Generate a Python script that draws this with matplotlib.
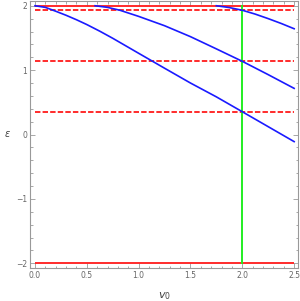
import matplotlib
matplotlib.use('Agg')
import matplotlib.pyplot as plt
from matplotlib.ticker import MultipleLocator

# levels (red lines)
solid_levels = [2.0, -2.0]
dashed_levels = [1.93, 1.137, 0.354]
v0_marker = 2.0

# blue curves
v0_a = [0.0, 0.1, 0.2, 0.3, 0.4, 0.5, 0.625, 0.75, 1.0, 1.25, 1.5, 1.75, 2.0, 2.25, 2.5]
eps_a = [2.0, 1.975, 1.915, 1.852, 1.783, 1.708, 1.605, 1.495, 1.262, 1.03, 0.8, 0.585, 0.354, 0.122, -0.11]

v0_b = [0.58, 0.7, 0.82, 1.0, 1.25, 1.5, 1.75, 2.0, 2.25, 2.5]
eps_b = [2.0, 1.975, 1.93, 1.835, 1.69, 1.52, 1.33, 1.137, 0.93, 0.717]

v0_c = [1.75, 1.875, 2.0, 2.125, 2.25, 2.375, 2.5]
eps_c = [2.0, 1.972, 1.93, 1.87, 1.8, 1.725, 1.643]

x_ticks = [0.0, 0.5, 1.0, 1.5, 2.0, 2.5]
y_ticks = [-2, -1, 0, 1, 2]

fig = plt.figure(figsize=(3.0, 3.01), dpi=100)
ax = fig.add_axes([0.0993, 0.108, 0.895, 0.890])

red = '#ff1a1a'
for y in solid_levels:
    ax.plot([0, 2.5], [y, y], color=red, lw=1.3, solid_capstyle='butt')
for y in dashed_levels:
    ax.plot([0, 2.5], [y, y], color=red, lw=1.3, linestyle=(0, (3, 1.2)))

ax.plot([v0_marker, v0_marker], [-2, 2], color='#22ee22', lw=1.4)

for xs, ys in [(v0_a, eps_a), (v0_b, eps_b), (v0_c, eps_c)]:
    ax.plot(xs, ys, color='#1a1aff', lw=1.2)

ax.set_xlim(-0.05, 2.54)
ax.set_ylim(-2.08, 2.08)

ax.set_xticks(x_ticks)
ax.set_xticklabels(['0.0', '0.5', '1.0', '1.5', '2.0', '2.5'])
ax.set_yticks(y_ticks)
ax.set_yticklabels(['\u22122', '\u22121', '0', '1', '2'])
ax.xaxis.set_minor_locator(MultipleLocator(0.1))
ax.yaxis.set_minor_locator(MultipleLocator(0.2))

gray = '#999999'
for s in ax.spines.values():
    s.set_color(gray)
    s.set_linewidth(0.8)
ax.tick_params(which='both', direction='in', top=True, right=True, color=gray,
               labelcolor='#666666', labelsize=5.5, width=0.6)
ax.tick_params(which='major', length=3.5, pad=2)
ax.tick_params(which='minor', length=1.8)

fig.text(0.025, 0.555, r'$\varepsilon$', fontsize=7, color='#444444', ha='center', va='center')
ax.set_xlabel(r'$v_0$', fontsize=8, color='#444444', labelpad=7)

fig.savefig('out.png', dpi=100)
